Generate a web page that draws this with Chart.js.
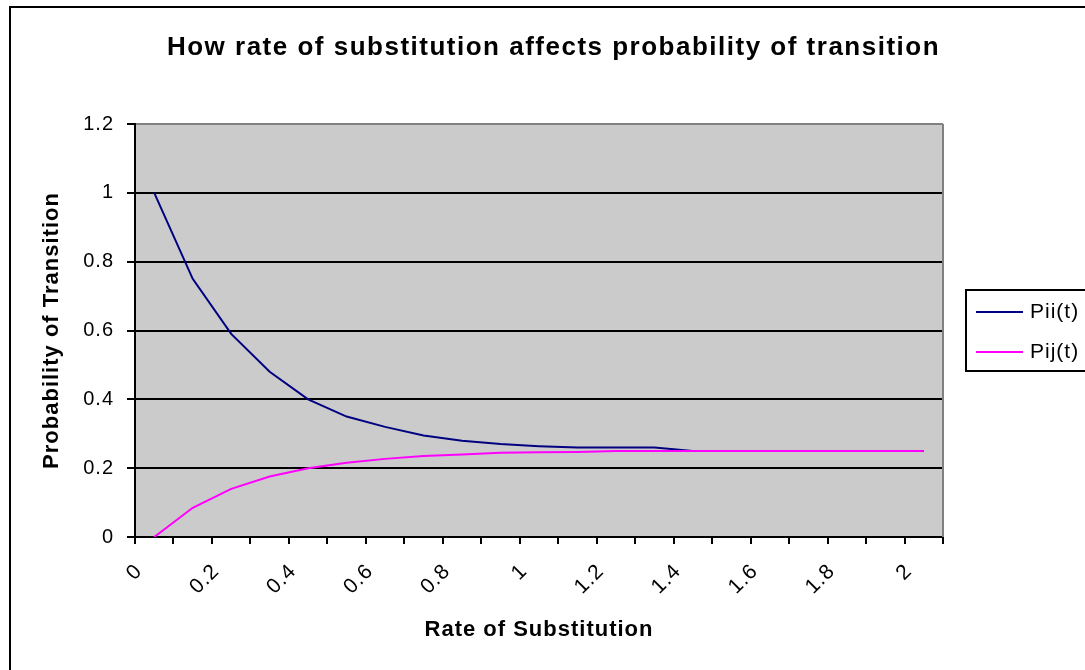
<!DOCTYPE html>
<html>
<head>
<meta charset="utf-8">
<title>How rate of substitution affects probability of transition</title>
<style>
  html, body { margin: 0; padding: 0; overflow: hidden; background: #ffffff; }
  #wrap { position: relative; width: 1107px; height: 670px; }
</style>
<script src="https://cdn.jsdelivr.net/npm/chart.js@4.4.1/dist/chart.umd.min.js"></script>
</head>
<body>
<div id="wrap"><canvas id="chart"></canvas></div>
<script>
// Rate of substitution (category axis)
const rates = ['0', '0.1', '0.2', '0.3', '0.4', '0.5', '0.6', '0.7', '0.8', '0.9',
               '1', '1.1', '1.2', '1.3', '1.4', '1.5', '1.6', '1.7', '1.8', '1.9', '2'];
// Probability of staying in the same state
const piiValues = [1.00, 0.75, 0.59, 0.48, 0.40, 0.35, 0.32, 0.295, 0.28, 0.27,
                   0.264, 0.26, 0.26, 0.26, 0.25, 0.25, 0.25, 0.25, 0.25, 0.25, 0.25];
// Probability of changing to a particular other state
const pijValues = [0.00, 0.085, 0.14, 0.176, 0.20, 0.216, 0.227, 0.235, 0.24, 0.245,
                   0.246, 0.247, 0.25, 0.25, 0.25, 0.25, 0.25, 0.25, 0.25, 0.25, 0.25];
// Value axis ticks
const yTickMin = 0;
const yTickMax = 1.2;
const yTickStep = 0.2;
// Show every second category label
const labelEvery = 2;

const FONT = '"Liberation Sans", Arial, Helvetica, sans-serif';

// Slightly open letter spacing for all chart text; wider for the title,
// which is centred across the whole chart width.
const textSpacing = {
  id: 'textSpacing',
  afterInit(chart) {
    const tb = chart.titleBlock;
    if (tb && !tb._spaced) {
      const draw = tb.draw;
      tb.draw = function (...args) {
        const c = this.ctx;
        c.save();
        c.letterSpacing = '1.5px';
        draw.apply(this, args);
        c.restore();
      };
      tb._spaced = true;
    }
  },
  afterLayout(chart) {
    const tb = chart.titleBlock;
    if (tb) {
      tb.left = 0;
      tb.right = chart.width;
      tb.width = chart.width;
    }
  },
  beforeUpdate(chart) { chart.ctx.letterSpacing = '1px'; },
  beforeDraw(chart) { chart.ctx.letterSpacing = '1px'; }
};

// White page, outer frame and grey plot area
const background = {
  id: 'background',
  beforeDraw(chart) {
    const { ctx, chartArea: a, width, height } = chart;
    ctx.save();
    ctx.fillStyle = '#ffffff';
    ctx.fillRect(0, 0, width, height);
    ctx.strokeStyle = '#000000';
    ctx.lineWidth = 2;
    ctx.strokeRect(10, 7, width - 20, height + 20);
    ctx.fillStyle = '#cbcbcb';
    ctx.fillRect(a.left, a.top, a.right - a.left, a.bottom - a.top);
    ctx.restore();
  },
  beforeDatasetsDraw(chart) {
    const { ctx, chartArea: a } = chart;
    ctx.save();
    ctx.strokeStyle = '#808080';
    ctx.lineWidth = 2;
    ctx.beginPath();
    ctx.moveTo(a.right, a.top);
    ctx.lineTo(a.right, a.bottom);
    ctx.stroke();
    ctx.restore();
  }
};

// Boxed legend to the right of the plot
const boxLegend = {
  id: 'boxLegend',
  afterDraw(chart) {
    const { ctx, chartArea: a } = chart;
    const left = a.right + 23;
    const cy = (a.top + a.bottom) / 2;
    const top = cy - 40.5;
    ctx.save();
    ctx.strokeStyle = '#000000';
    ctx.lineWidth = 2;
    ctx.strokeRect(left, top, 132, 81);
    ctx.font = '21px ' + FONT;
    ctx.textBaseline = 'middle';
    ctx.textAlign = 'left';
    chart.data.datasets.forEach((ds, i) => {
      const y = top + 22 + i * 40;
      ctx.strokeStyle = ds.borderColor;
      ctx.lineWidth = 2;
      ctx.beginPath();
      ctx.moveTo(left + 10, y);
      ctx.lineTo(left + 57, y);
      ctx.stroke();
      ctx.fillStyle = '#000000';
      ctx.fillText(ds.label, left + 64, y);
    });
    ctx.restore();
  }
};

new Chart(document.getElementById('chart'), {
  type: 'line',
  data: {
    labels: rates,
    datasets: [
      {
        label: 'Pii(t)',
        data: piiValues,
        borderColor: '#000080',
        backgroundColor: '#000080',
        borderWidth: 2,
        pointRadius: 0,
        tension: 0,
        fill: false,
        order: 1
      },
      {
        label: 'Pij(t)',
        data: pijValues,
        borderColor: '#ff00ff',
        backgroundColor: '#ff00ff',
        borderWidth: 2,
        pointRadius: 0,
        tension: 0,
        fill: false,
        order: 0
      }
    ]
  },
  options: {
    responsive: true,
    maintainAspectRatio: false,
    devicePixelRatio: 1,
    animation: false,
    layout: { padding: { left: 0, right: 164, top: 0, bottom: 0 } },
    plugins: {
      legend: { display: false },
      tooltip: { enabled: false },
      title: {
        display: true,
        text: 'How rate of substitution affects probability of transition',
        color: '#000000',
        font: { family: FONT, size: 26, weight: 'bold' },
        padding: { top: 32, bottom: 60.8 }
      }
    },
    scales: {
      x: {
        type: 'category',
        offset: true,
        grid: {
          display: true,
          offset: true,
          drawOnChartArea: false,
          drawTicks: true,
          tickLength: 7,
          color: '#000000',
          lineWidth: 2
        },
        border: { display: true, color: '#000000', width: 2 },
        ticks: {
          autoSkip: false,
          minRotation: 45,
          maxRotation: 45,
          padding: 15,
          labelOffset: -15,
          color: '#000000',
          font: { family: FONT, size: 21 },
          callback(value, index) {
            return index % labelEvery === 0 ? this.getLabelForValue(value) : '';
          }
        },
        title: {
          display: true,
          text: 'Rate of Substitution',
          color: '#000000',
          font: { family: FONT, size: 22, weight: 'bold' },
          padding: { top: 0, bottom: 27 }
        },
        afterFit(scale) { scale.height = 133; }
      },
      y: {
        min: yTickMin,
        max: yTickMax,
        ticks: {
          stepSize: yTickStep,
          padding: 13,
          color: '#000000',
          font: { family: FONT, size: 20 },
          callback: (value) => String(+value.toFixed(2))
        },
        grid: {
          color: (c) => (c.tick && c.tick.value >= yTickMax - 1e-9 ? '#808080' : '#000000'),
          tickColor: '#000000',
          lineWidth: 2,
          tickLength: 8
        },
        border: { display: true, color: '#000000', width: 2 },
        title: {
          display: true,
          text: 'Probability of Transition',
          color: '#000000',
          font: { family: FONT, size: 22, weight: 'bold' },
          padding: { top: 39, bottom: 0 }
        },
        afterFit(scale) { scale.width = 135; }
      }
    }
  },
  plugins: [textSpacing, background, boxLegend]
});
</script>
</body>
</html>
